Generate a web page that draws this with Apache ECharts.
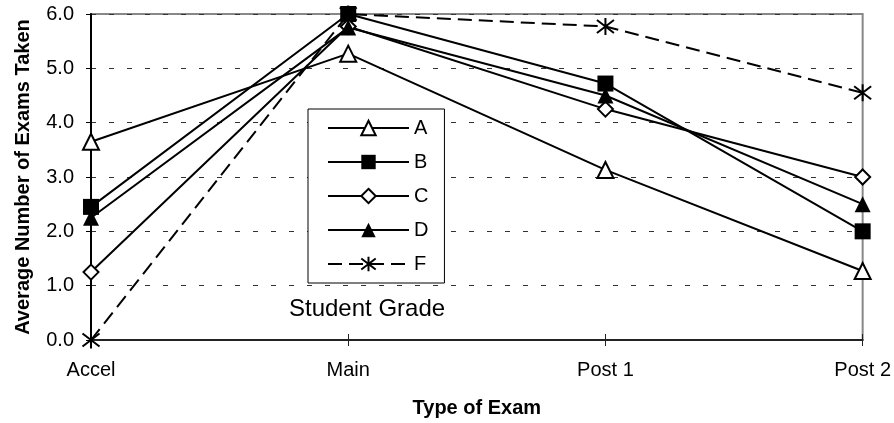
<!DOCTYPE html>
<html>
<head>
<meta charset="utf-8">
<script src="https://cdn.jsdelivr.net/npm/echarts@6/dist/echarts.min.js"></script>
<style>
  html, body { margin: 0; padding: 0; background: #fff; }
  #chart { width: 894px; height: 423px; }
</style>
</head>
<body>
<div id="chart"></div>
<script>
// Exam types along the x axis
const examTypes = ['Accel', 'Main', 'Post 1', 'Post 2'];

// Average number of exams taken, by student grade
const gradeA = [3.65, 5.27, 3.13, 1.27];
const gradeB = [2.45, 6.0, 4.72, 2.0];
const gradeC = [1.25, 5.77, 4.25, 3.0];
const gradeD = [2.25, 5.75, 4.5, 2.5];
const gradeF = [0.0, 6.0, 5.77, 4.55];

const yTicks = [0, 1, 2, 3, 4, 5, 6];

const FONT = '"Liberation Sans", Arial, sans-serif';
// six-armed asterisk marker, stroked only
const asterisk = 'path://M0 0L10 10M10 0L0 10M5 -1.5L5 11.5';

function lineSeries(name, data, symbol, size, fill, dashed, stroke) {
  return {
    name: name,
    type: 'line',
    xAxisIndex: 0,
    data: data,
    symbol: symbol,
    symbolSize: size,
    showSymbol: true,
    z: 3,
    lineStyle: { color: '#000', width: 2, type: dashed ? [14, 7] : 'solid' },
    itemStyle: {
      color: fill,
      borderColor: '#000',
      borderWidth: stroke
    },
    emphasis: { disabled: true }
  };
}

const chart = echarts.init(document.getElementById('chart'), null, { renderer: 'canvas' });
chart.setOption({
  animation: false,
  backgroundColor: '#fff',
  textStyle: { fontFamily: FONT },
  grid: {
    left: 91, right: 31, top: 14, bottom: 81,
    show: true, borderColor: '#888', borderWidth: 2, backgroundColor: 'transparent'
  },
  legend: {
    orient: 'vertical',
    left: 308, top: 109,
    padding: [9, 16, 9, 19],
    itemGap: 14,
    itemWidth: 81,
    itemHeight: 18,
    borderColor: '#000',
    borderWidth: 1,
    backgroundColor: '#fff',
    textStyle: { fontFamily: FONT, fontSize: 20, color: '#000' },
    data: ['A', 'B', 'C', 'D', 'F']
  },
  graphic: [{
    type: 'text',
    left: 289, top: 297,
    style: { text: 'Student Grade', font: '24px ' + FONT, fill: '#000' }
  }],
  xAxis: [{
    type: 'category',
    data: examTypes,
    position: 'bottom',
    boundaryGap: false,
    name: 'Type of Exam',
    nameLocation: 'middle',
    nameGap: 58,
    nameTextStyle: { fontFamily: FONT, fontSize: 20, fontWeight: 'bold', color: '#000' },
    axisLine: { lineStyle: { color: '#222', width: 2 } },
    axisTick: { show: true, inside: false, length: 6, lineStyle: { color: '#222' } },
    axisLabel: { fontFamily: FONT, fontSize: 20, color: '#000', margin: 20 },
    splitLine: { show: false }
  }, {
    // inner half of the category ticks so they cross the axis line
    type: 'category',
    data: examTypes,
    position: 'bottom',
    offset: 0,
    boundaryGap: false,
    axisLine: { show: false },
    axisTick: { show: true, inside: true, length: 6, lineStyle: { color: '#222' } },
    axisLabel: { show: false },
    splitLine: { show: false }
  }],
  yAxis: {
    type: 'value',
    min: yTicks[0],
    max: yTicks[yTicks.length - 1],
    interval: 1,
    name: 'Average Number of Exams Taken',
    nameLocation: 'middle',
    nameGap: 58,
    nameTextStyle: { fontFamily: FONT, fontSize: 20, fontWeight: 'bold', color: '#000' },
    axisLine: { show: true, lineStyle: { color: '#000', width: 2 } },
    axisTick: { show: true, length: 5, lineStyle: { color: '#000' } },
    axisLabel: {
      fontFamily: FONT, fontSize: 20, color: '#000', margin: 17,
      formatter: v => v.toFixed(1)
    },
    splitLine: { show: true, lineStyle: { color: '#333', width: 1, type: [5, 13] } }
  },
  series: [
    lineSeries('A', gradeA, 'triangle', 16, '#fff', false, 2),
    lineSeries('B', gradeB, 'rect', 16, '#000', false, 0),
    lineSeries('C', gradeC, 'diamond', 15, '#fff', false, 2),
    lineSeries('D', gradeD, 'triangle', 16, '#000', false, 0),
    lineSeries('F', gradeF, asterisk, 17, 'none', true, 2)
  ]
});
</script>
</body>
</html>
